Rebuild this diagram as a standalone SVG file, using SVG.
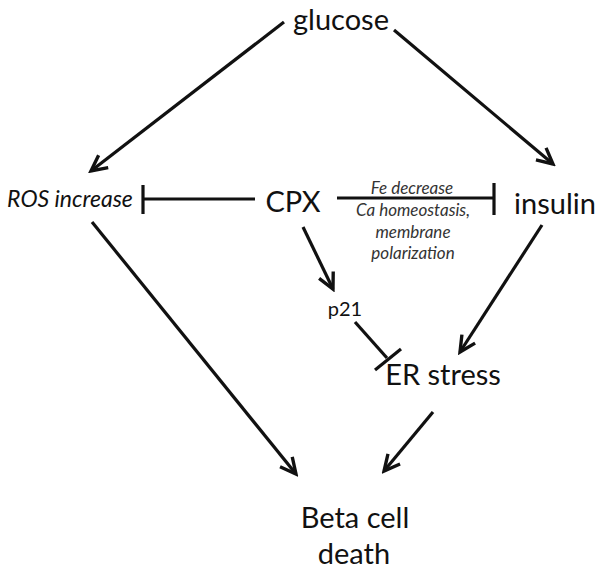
<svg xmlns="http://www.w3.org/2000/svg" width="600" height="570" viewBox="0 0 600 570">
<style>
text{font-family:Lato,"Open Sans","Liberation Sans",sans-serif;fill:#111;}
.big{font-size:29px;}
.it{font-style:italic;}
.lab{font-size:17px;font-style:italic;fill:#333;}
.c line{stroke:#111;stroke-width:3.2;stroke-linecap:butt;fill:none;}
</style>
<defs>
<marker id="ah" viewBox="0 0 20 20" refX="17" refY="10" markerWidth="7" markerHeight="7" markerUnits="strokeWidth" orient="auto">
<path d="M3,3 L17,10 L3,17" fill="none" stroke="#111" stroke-width="3"/>
</marker>
</defs>
<rect width="600" height="570" fill="#fff"/>
<g class="c" id="connectors">
<line x1="284" y1="22" x2="91" y2="171" marker-end="url(#ah)"/>
<line x1="394" y1="30" x2="553" y2="164" marker-end="url(#ah)"/>
<line x1="255" y1="199" x2="143" y2="199"/>
<line x1="143" y1="185" x2="143" y2="214"/>
<line x1="337" y1="198" x2="493" y2="198"/>
<line x1="494" y1="183" x2="494" y2="215"/>
<line x1="303" y1="227" x2="333" y2="289" marker-end="url(#ah)"/>
<line x1="355" y1="322" x2="387" y2="358"/>
<line x1="375" y1="370" x2="401" y2="349"/>
<line x1="542" y1="225" x2="460" y2="352" marker-end="url(#ah)"/>
<line x1="92" y1="222" x2="296" y2="474" marker-end="url(#ah)"/>
<line x1="433" y1="412" x2="384" y2="471" marker-end="url(#ah)"/>
</g>
<g id="glucose"><text class="big" x="341" y="30" text-anchor="middle">glucose</text></g>
<g id="ros"><text class="it" x="70" y="207" font-size="23" text-anchor="middle">ROS increase</text></g>
<g id="cpx"><text class="big" x="293" y="212" text-anchor="middle">CPX</text></g>
<g id="insulin"><text class="big" x="555" y="214" text-anchor="middle">insulin</text></g>
<g id="mech">
<text class="lab" x="412" y="194" text-anchor="middle">Fe decrease</text>
<text class="lab" x="413" y="216" text-anchor="middle">Ca homeostasis,</text>
<text class="lab" x="413" y="238" text-anchor="middle">membrane</text>
<text class="lab" x="413" y="259" text-anchor="middle">polarization</text>
</g>
<g id="p21"><text x="345" y="316" font-size="20" text-anchor="middle">p21</text></g>
<g id="er"><text class="big" x="443" y="385" text-anchor="middle">ER stress</text></g>
<g id="beta">
<text class="big" x="355" y="528" text-anchor="middle">Beta cell</text>
<text class="big" x="354" y="564" text-anchor="middle">death</text>
</g>
</svg>
